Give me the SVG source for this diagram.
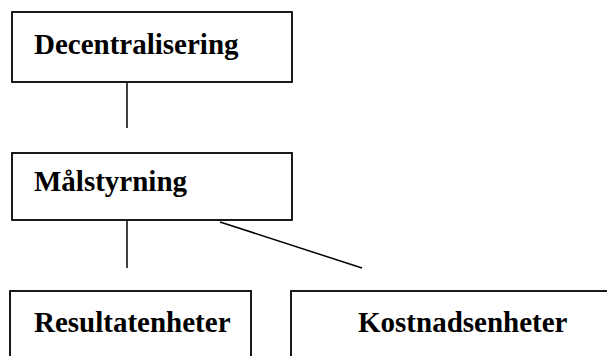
<svg xmlns="http://www.w3.org/2000/svg" width="607" height="356" viewBox="0 0 607 356">
<style>
.box{fill:#fff;stroke:#000;stroke-width:1.8}
.lbl{font-family:"Liberation Serif","Times New Roman",serif;font-weight:bold;font-size:29px;fill:#000}
.con{stroke:#000;stroke-width:1.5;fill:none}
</style>
<rect width="607" height="356" fill="#fff"/>
<g id="connectors">
<line class="con" x1="127" y1="82" x2="127" y2="128"/>
<line class="con" x1="127" y1="220" x2="127" y2="268"/>
<line class="con" x1="220" y1="222" x2="362" y2="268"/>
</g>
<g id="decentralisering">
<rect class="box" x="12" y="12" width="280" height="70"/>
<text class="lbl" x="34" y="54">Decentralisering</text>
</g>
<g id="malstyrning">
<rect class="box" x="12" y="153" width="280" height="67"/>
<text class="lbl" x="34" y="191">Målstyrning</text>
</g>
<g id="resultatenheter">
<rect class="box" x="10" y="291" width="241" height="80"/>
<text class="lbl" x="34" y="332">Resultatenheter</text>
</g>
<g id="kostnadsenheter">
<rect class="box" x="291" y="291" width="330" height="80"/>
<text class="lbl" x="358" y="332">Kostnadsenheter</text>
</g>
</svg>
